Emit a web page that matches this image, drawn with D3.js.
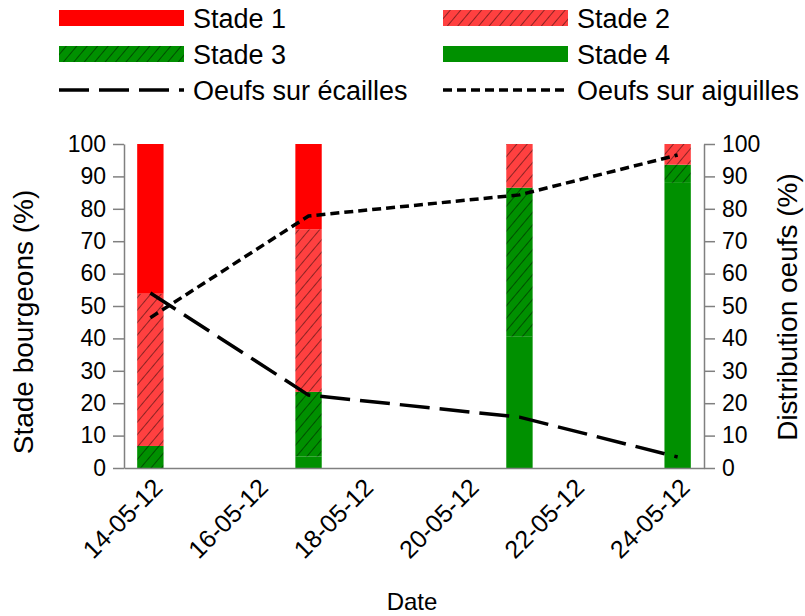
<!DOCTYPE html>
<html>
<head>
<meta charset="utf-8">
<script src="https://cdn.jsdelivr.net/npm/d3@7"></script>
<style>
  body { margin: 0; background: #fff; }
  text { font-family: "Liberation Sans", Arial, sans-serif; fill: #000; }
</style>
</head>
<body>
<svg id="chart" width="805" height="616"></svg>
<script>
// data
const dates = ["14-05-12", "17-05-12", "21-05-12", "24-05-12"];
const stade1 = [46.2, 26.3, 0, 0];
const stade2 = [47.0, 50.2, 13.5, 6.4];
const stade3 = [6.8, 20.0, 46.0, 5.6];
const stade4 = [0, 3.5, 40.5, 88.0];
const oeufsEcailles = [54, 22.5, 15.7, 3.4];
const oeufsAiguilles = [46.4, 77.8, 84.3, 96.6];
const tickDates = ["14-05-12", "16-05-12", "18-05-12", "20-05-12", "22-05-12", "24-05-12"];
const yTicks = [0, 10, 20, 30, 40, 50, 60, 70, 80, 90, 100];

const svg = d3.select("#chart");
const parse = d3.utcParse("%d-%m-%y");
const fmt = d3.utcFormat("%d-%m-%y");
const red = "#ff0000", red2 = "#ff4040", green = "#009000";
const axisGrey = "#808080";

const rows = dates.map((d, i) => ({
    date: parse(d), s1: stade1[i], s2: stade2[i], s3: stade3[i], s4: stade4[i]
}));

// hatch patterns
const defs = svg.append("defs");
function hatch(id, bg) {
    const p = defs.append("pattern")
        .attr("id", id)
        .attr("patternUnits", "userSpaceOnUse")
        .attr("width", 8).attr("height", 8)
        .attr("patternTransform", "rotate(40)");
    p.append("rect").attr("width", 8).attr("height", 8).attr("fill", bg);
    p.append("line").attr("x1", 0).attr("y1", 0).attr("x2", 0).attr("y2", 8)
        .attr("stroke", "#000").attr("stroke-width", 0.9);
}
hatch("hatchRed", red2);
hatch("hatchGreen", green);

const margin = { left: 124, right: 704, top: 144, bottom: 468 };

const x = d3.scaleUtc()
    .domain([d3.utcHour.offset(parse(dates[0]), -12), d3.utcHour.offset(parse(dates[dates.length - 1]), 12)])
    .range([margin.left, margin.right]);
const y = d3.scaleLinear().domain([0, 100]).range([margin.bottom, margin.top]);

const barW = (x(parse("15-05-12")) - x(parse("14-05-12"))) * 0.5;

// stacked bars, bottom stage 4 up to stage 1
const keys = ["s4", "s3", "s2", "s1"];
const fills = { s1: red, s2: "url(#hatchRed)", s3: "url(#hatchGreen)", s4: green };
const series = d3.stack().keys(keys)(rows);

svg.append("g").selectAll("g")
    .data(series)
    .enter()
    .append("g")
    .attr("fill", d => fills[d.key])
    .selectAll("rect")
    .data(d => d)
    .enter()
    .append("rect")
    .attr("x", d => x(d.data.date) - barW / 2)
    .attr("width", barW)
    .attr("y", d => y(d[1]))
    .attr("height", d => y(d[0]) - y(d[1]));

// axes
const yLeft = svg.append("g")
    .attr("transform", `translate(${margin.left},0)`)
    .call(d3.axisLeft(y).tickValues(yTicks).tickSize(11).tickSizeOuter(0).tickPadding(7));
const yRight = svg.append("g")
    .attr("transform", `translate(${margin.right},0)`)
    .call(d3.axisRight(y).tickValues(yTicks).tickSize(11).tickSizeOuter(0).tickPadding(7));
const xAxis = svg.append("g")
    .attr("transform", `translate(0,${margin.bottom})`)
    .call(d3.axisBottom(x).tickValues(tickDates.map(parse)).tickFormat(fmt).tickSize(0).tickSizeOuter(0).tickPadding(0));

[yLeft, yRight, xAxis].forEach(a => {
    a.select(".domain").attr("stroke", axisGrey).attr("stroke-width", 1.5);
    a.selectAll(".tick line").attr("stroke", axisGrey).attr("stroke-width", 1.5);
    a.selectAll("text").attr("font-size", 23).attr("fill", "#000")
        .style("font-family", "'Liberation Sans', Arial, sans-serif");
});

xAxis.selectAll(".tick text")
    .attr("font-size", 25)
    .attr("text-anchor", "end")
    .attr("dy", "0.35em")
    .attr("transform", "translate(7,15) rotate(-45)");

// lines
const line = d3.line().x((d, i) => x(parse(dates[i]))).y(d => y(d));
svg.append("path")
    .datum(oeufsEcailles)
    .attr("d", line)
    .attr("fill", "none")
    .attr("stroke", "#000")
    .attr("stroke-width", 3.5)
    .attr("stroke-dasharray", "30,10");
svg.append("path")
    .datum(oeufsAiguilles)
    .attr("d", line)
    .attr("fill", "none")
    .attr("stroke", "#000")
    .attr("stroke-width", 3.5)
    .attr("stroke-dasharray", "9,5");

// axis titles
svg.append("text")
    .attr("transform", "translate(33,322) rotate(-90)")
    .attr("text-anchor", "middle")
    .attr("font-size", 28)
    .text("Stade bourgeons (%)");
svg.append("text")
    .attr("transform", "translate(797,307) rotate(-90)")
    .attr("text-anchor", "middle")
    .attr("font-size", 28)
    .text("Distribution oeufs (%)");
svg.append("text")
    .attr("x", 412).attr("y", 610)
    .attr("text-anchor", "middle")
    .attr("font-size", 24)
    .text("Date");

// legend
const legendItems = [
    { label: "Stade 1", type: "rect", fill: red, col: 0, row: 0 },
    { label: "Stade 2", type: "rect", fill: "url(#hatchRed)", col: 1, row: 0 },
    { label: "Stade 3", type: "rect", fill: "url(#hatchGreen)", col: 0, row: 1 },
    { label: "Stade 4", type: "rect", fill: green, col: 1, row: 1 },
    { label: "Oeufs sur écailles", type: "line", dash: "30,10", col: 0, row: 2 },
    { label: "Oeufs sur aiguilles", type: "line", dash: "9,5", col: 1, row: 2 }
];
const colX = [59, 443], rowY = [18, 54, 90], swatchW = 125;

const leg = svg.append("g").selectAll("g")
    .data(legendItems)
    .enter()
    .append("g")
    .attr("transform", d => `translate(${colX[d.col]},${rowY[d.row]})`);

leg.each(function (d) {
    const item = d3.select(this);
    if (d.type === "rect") {
        item.append("rect")
            .attr("y", -8).attr("width", swatchW).attr("height", 16)
            .attr("fill", d.fill);
    } else {
        item.append("line")
            .attr("x1", 0).attr("x2", swatchW)
            .attr("stroke", "#000").attr("stroke-width", 3.5)
            .attr("stroke-dasharray", d.dash);
    }
});
leg.append("text")
    .attr("x", swatchW + 9)
    .attr("dy", "0.36em")
    .attr("font-size", 27)
    .text(d => d.label);
</script>
</body>
</html>
